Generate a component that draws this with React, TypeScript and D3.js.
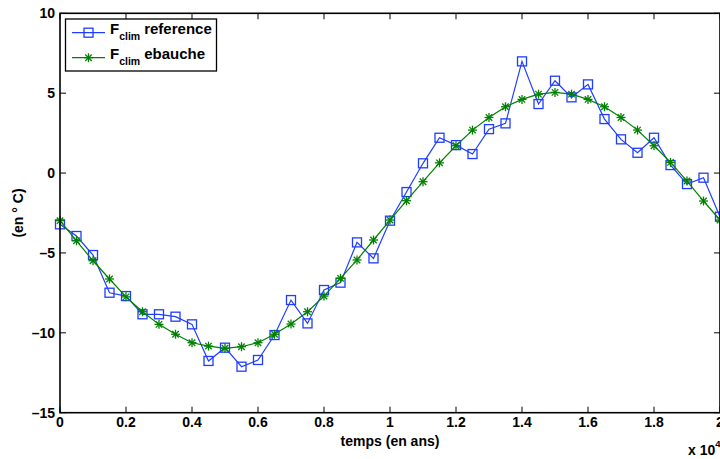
import React from "react";
import * as d3 from "d3";

const xValues: number[] = d3.range(41).map((i) => i * 0.05);
const referenceValues: number[] = [
  -3.21, -3.94, -5.13, -7.49, -7.7, -8.84, -8.84, -8.99, -9.47, -11.76,
  -10.93, -12.12, -11.7, -10.14, -7.95, -9.41, -7.32, -6.86, -4.34, -5.34,
  -2.98, -1.19, 0.61, 2.21, 1.75, 1.19, 2.75, 3.11, 6.99, 4.32,
  5.78, 4.74, 5.55, 3.38, 2.11, 1.27, 2.21, 0.5, -0.69, -0.29,
  -2.73,
];
const ebaucheValues: number[] = [
  -2.98, -4.24, -5.49, -6.63, -7.75, -8.68, -9.47, -10.09, -10.62, -10.83,
  -10.97, -10.87, -10.62, -10.09, -9.45, -8.68, -7.7, -6.59, -5.44, -4.19,
  -2.94, -1.73, -0.54, 0.64, 1.71, 2.69, 3.48, 4.15, 4.61, 4.94,
  5.05, 4.94, 4.61, 4.15, 3.48, 2.69, 1.71, 0.67, -0.5, -1.75,
  -2.94,
];
const xTicks: number[] = [0, 0.2, 0.4, 0.6, 0.8, 1, 1.2, 1.4, 1.6, 1.8, 2];
const yTicks: number[] = [-15, -10, -5, 0, 5, 10];
const xLabel = "temps (en ans)";
const yLabel = "(en \u00b0 C)";
const legendNames = ["reference", "ebauche"];

const W = 720;
const H = 459;
const left = 60;
const right = 720;
const top = 13.3;
const bottom = 412.7;
const FONT = "'Liberation Sans', Arial, Helvetica, sans-serif";
const BLUE = "#1f3dff";
const GREEN = "#008000";

function fmt(v: number): string {
  const s = String(v);
  return s.startsWith("-") ? "\u2013" + s.slice(1) : s;
}

function Square({ x, y, color }: { x: number; y: number; color: string }) {
  const s = 4.5;
  return <rect x={x - s} y={y - s} width={2 * s} height={2 * s} fill="none" stroke={color} strokeWidth={1.3} />;
}

function Star({ x, y, color }: { x: number; y: number; color: string }) {
  const r = 4.5;
  const d = r * 0.72;
  return (
    <g stroke={color} strokeWidth={1.3}>
      <line x1={x - r} y1={y} x2={x + r} y2={y} />
      <line x1={x} y1={y - r} x2={x} y2={y + r} />
      <line x1={x - d} y1={y - d} x2={x + d} y2={y + d} />
      <line x1={x - d} y1={y + d} x2={x + d} y2={y - d} />
    </g>
  );
}

export default function App() {
  const xs = d3.scaleLinear().domain([0, 2]).range([left, right]);
  const ys = d3.scaleLinear().domain([-15, 10]).range([bottom, top]);
  const line = d3
    .line<[number, number]>()
    .x((d) => xs(d[0]))
    .y((d) => ys(d[1]));
  const refPts: [number, number][] = xValues.map((x, i) => [x, referenceValues[i]]);
  const ebPts: [number, number][] = xValues.map((x, i) => [x, ebaucheValues[i]]);
  const tickLen = 6;

  return (
    <svg
      width={W}
      height={H}
      style={{ position: "absolute", left: 0, top: 0, background: "#fff" }}
      fontFamily={FONT}
      fontWeight="bold"
    >
      <rect x={0} y={0} width={W} height={H} fill="#fff" />
      {/* series */}
      <path d={line(refPts) || ""} fill="none" stroke={BLUE} strokeWidth={1.2} />
      {refPts.map((p, i) => (
        <Square key={"r" + i} x={xs(p[0])} y={ys(p[1])} color={BLUE} />
      ))}
      <path d={line(ebPts) || ""} fill="none" stroke={GREEN} strokeWidth={1.2} />
      {ebPts.map((p, i) => (
        <Star key={"e" + i} x={xs(p[0])} y={ys(p[1])} color={GREEN} />
      ))}

      {/* axes box */}
      <rect x={left} y={top} width={right - left} height={bottom - top} fill="none" stroke="#000" strokeWidth={1.6} />
      {xTicks.map((t) => (
        <g key={"xt" + t}>
          <line x1={xs(t)} x2={xs(t)} y1={bottom} y2={bottom - tickLen} stroke="#000" strokeWidth={1} />
          <line x1={xs(t)} x2={xs(t)} y1={top} y2={top + tickLen} stroke="#000" strokeWidth={1} />
          <text x={xs(t)} y={426.5} fontSize={14} textAnchor="middle">
            {fmt(t)}
          </text>
        </g>
      ))}
      {yTicks.map((t) => (
        <g key={"yt" + t}>
          <line x1={left} x2={left + tickLen} y1={ys(t)} y2={ys(t)} stroke="#000" strokeWidth={1} />
          <line x1={right} x2={right - tickLen} y1={ys(t)} y2={ys(t)} stroke="#000" strokeWidth={1} />
          <text x={55} y={ys(t)} dy="0.36em" fontSize={14} textAnchor="end">
            {fmt(t)}
          </text>
        </g>
      ))}

      {/* axis labels */}
      <text x={390} y={446} fontSize={14} textAnchor="middle">
        {xLabel}
      </text>
      <text x={688} y={455} fontSize={14}>
        x 10
        <tspan dy={-8} fontSize={9.5}>4</tspan>
      </text>
      <text transform={`translate(22.5,${(top + bottom) / 2}) rotate(-90)`} fontSize={14} textAnchor="middle">
        {yLabel}
      </text>

      {/* legend */}
      <rect x={65.5} y={19} width={151} height={52} fill="#fff" stroke="#000" strokeWidth={1.3} />
      {legendNames.map((name, i) => {
        const y = 32.7 + i * 25;
        const color = i === 0 ? BLUE : GREEN;
        return (
          <g key={name}>
            <line x1={72} x2={105} y1={y} y2={y} stroke={color} strokeWidth={1.2} />
            {i === 0 ? <Square x={88.5} y={y} color={color} /> : <Star x={88.5} y={y} color={color} />}
            <text x={110} y={y + 0.8} fontSize={15}>
              F
              <tspan dy={6} fontSize={10.5}>clim</tspan>
              <tspan dy={-6} dx={4} fontSize={15}>{name}</tspan>
            </text>
          </g>
        );
      })}
    </svg>
  );
}
